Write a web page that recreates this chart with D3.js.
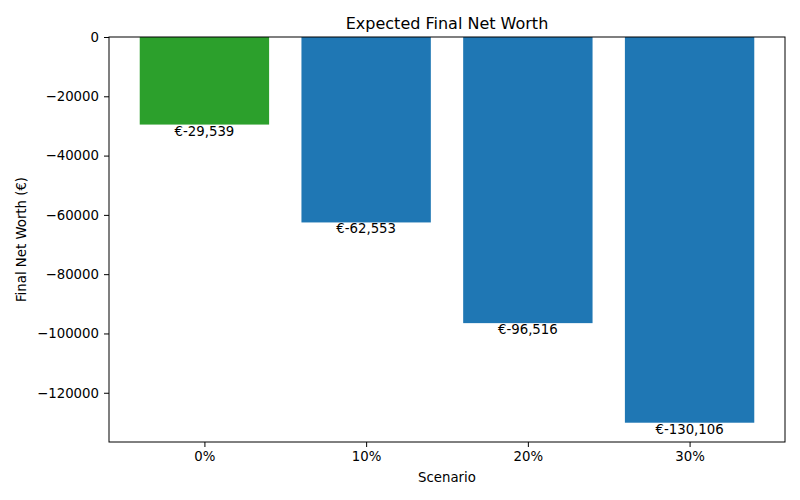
<!DOCTYPE html>
<html>
<head>
<meta charset="utf-8">
<script src="https://cdn.jsdelivr.net/npm/d3@7"></script>
<style>
  body{margin:0;background:white;}
  text{font-family:"DejaVu Sans",sans-serif;fill:black;}
</style>
</head>
<body>
<div id="chart"></div>
<script>
const scenarios=["0%","10%","20%","30%"];
const netWorth=[-29539,-62553,-96516,-130106];
const barColors=["#2ca02c","#1f77b4","#1f77b4","#1f77b4"];
const yTicks=[0,-20000,-40000,-60000,-80000,-100000,-120000];

const width=800,height=500;
const margin={top:37,right:15,bottom:58,left:109};
const plotW=width-margin.left-margin.right;
const plotH=height-margin.top-margin.bottom;

const svg=d3.select("#chart")
    .append("svg")
    .attr("width",width)
    .attr("height",height);

const g=svg.append("g")
    .attr("transform",`translate(${margin.left},${margin.top})`);

// matplotlib-like limits: bars of width 0.8, 5% margins
const minVal=d3.min(netWorth);
const x=d3.scaleLinear()
    .domain([-0.59,scenarios.length-1+0.59])
    .range([0,plotW]);
const y=d3.scaleLinear()
    .domain([0,minVal*1.05])
    .range([0,plotH]);

const barW=x(0.8)-x(0);

g.selectAll(".bar")
    .data(netWorth)
    .enter()
    .append("rect")
    .attr("class","bar")
    .attr("x",(d,i)=>x(i)-barW/2)
    .attr("y",y(0))
    .attr("width",barW)
    .attr("height",d=>y(d)-y(0))
    .attr("fill",(d,i)=>barColors[i]);

g.selectAll(".valLabel")
    .data(netWorth)
    .enter()
    .append("text")
    .attr("class","valLabel")
    .attr("x",(d,i)=>x(i))
    .attr("y",d=>y(d)+11)
    .attr("text-anchor","middle")
    .attr("font-size","13.3px")
    .text(d=>"€"+d3.format(",")(d).replace("−","-"));

const xAxis=d3.axisBottom(x)
    .tickValues(d3.range(scenarios.length))
    .tickFormat(i=>scenarios[i])
    .tickSizeOuter(0)
    .tickSize(5)
    .tickPadding(5);

const yAxis=d3.axisLeft(y)
    .tickValues(yTicks)
    .tickFormat(d=>d===0?"0":"\u2212"+Math.abs(d))
    .tickSizeOuter(0)
    .tickSize(5)
    .tickPadding(5);

const gx=g.append("g")
    .attr("transform",`translate(0,${plotH})`)
    .call(xAxis);
const gy=g.append("g").call(yAxis);

[gx,gy].forEach(a=>{
    a.select(".domain").remove();
    a.selectAll("text").attr("font-size","13.3px").attr("font-family","DejaVu Sans");
    a.selectAll("line").attr("stroke","black").attr("stroke-width",1);
});

g.append("rect")
    .attr("width",plotW)
    .attr("height",plotH)
    .attr("fill","none")
    .attr("stroke","black")
    .attr("stroke-width",1);

svg.append("text")
    .attr("x",margin.left+plotW/2)
    .attr("y",29)
    .attr("text-anchor","middle")
    .attr("font-size","16px")
    .text("Expected Final Net Worth");

svg.append("text")
    .attr("x",margin.left+plotW/2)
    .attr("y",482)
    .attr("text-anchor","middle")
    .attr("font-size","13.3px")
    .text("Scenario");

svg.append("text")
    .attr("transform",`translate(26,${margin.top+plotH/2}) rotate(-90)`)
    .attr("text-anchor","middle")
    .attr("font-size","13.3px")
    .text("Final Net Worth (€)");
</script>
</body>
</html>
